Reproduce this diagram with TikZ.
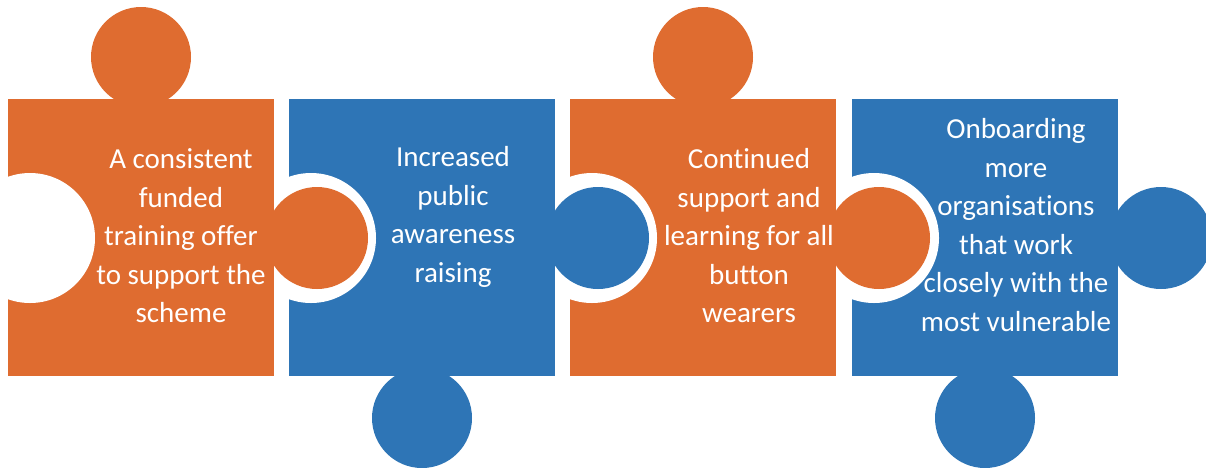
\documentclass[tikz,border=0pt]{standalone}
\usepackage{fontspec}
\setmainfont{Carlito}[RawFeature={-liga;-dlig}]
\definecolor{porange}{RGB}{223,108,48}
\definecolor{pblue}{RGB}{46,117,182}
\tikzset{
  txt/.style={text=white, align=center, inner sep=0pt, font=\fontsize{29}{38.5}\selectfont}
}
\begin{document}
\begin{tikzpicture}[x=1pt,y=-1pt]
\useasboundingbox (0,0) rectangle (1206,467);
% squares with top/bottom tabs
\fill[porange] (8,99) rectangle (274,376);
\fill[porange] (141,57) circle[radius=50pt];
\fill[pblue] (289,99) rectangle (555,376);
\fill[pblue] (422,418) circle[radius=50pt];
\fill[porange] (570,99) rectangle (836,376);
\fill[porange] (703,57) circle[radius=50pt];
\fill[pblue] (852,99) rectangle (1118,376);
\fill[pblue] (985,418) circle[radius=50pt];
% holes
\begin{scope}\clip (8,99) rectangle (274,376); \fill[white] (30,238) circle[radius=65pt];\end{scope}
\begin{scope}\clip (289,99) rectangle (555,376); \fill[white] (311,238) circle[radius=65pt];\end{scope}
\begin{scope}\clip (570,99) rectangle (836,376); \fill[white] (592,238) circle[radius=65pt];\end{scope}
\begin{scope}\clip (852,99) rectangle (1118,376); \fill[white] (874,238) circle[radius=65pt];\end{scope}
% side tabs
\fill[porange] (317,238) circle[radius=51pt];
\fill[pblue] (598,238) circle[radius=51pt];
\fill[porange] (879,238) circle[radius=51pt];
\fill[pblue] (1161,238) circle[radius=51pt];
% texts
\node[txt] (t1) at (181,236) {A consistent\\funded\\training offer\\to support the\\scheme};
\node[txt] (t2) at (453,217) {Increased\\public\\awareness\\raising};
\node[txt] (t3) at (749,236) {Continued\\support and\\learning for all\\button\\wearers};
\node[txt] (t4) at (1016,225) {Onboarding\\more\\organisations\\that work\\closely with the\\most vulnerable};
\end{tikzpicture}
\end{document}
